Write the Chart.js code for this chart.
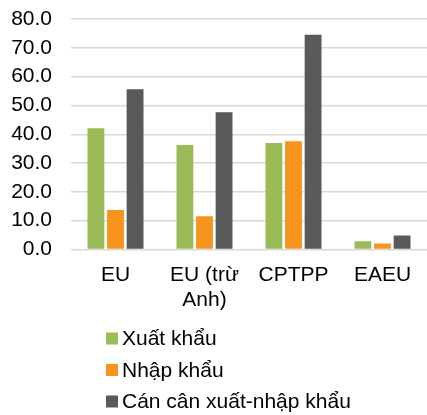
<!DOCTYPE html>
<html>
<head>
<meta charset="utf-8">
<script src="https://cdn.jsdelivr.net/npm/chart.js@4/dist/chart.umd.min.js"></script>
<style>
  html, body { margin: 0; padding: 0; background: #ffffff; }
  #wrap { position: relative; width: 427px; height: 415px; }
</style>
</head>
<body>
<div id="wrap"><canvas id="c"></canvas></div>
<script>
const categories = ["EU", ["EU (trừ", "Anh)"], "CPTPP", "EAEU"];
const seriesNames = ["Xuất khẩu", "Nhập khẩu", "Cán cân xuất-nhập khẩu"];
const exportValues = [42.1, 36.3, 37.0, 2.9];
const importValues = [13.7, 11.5, 37.6, 2.1];
const balanceValues = [55.6, 47.6, 74.5, 4.9];
const yTicks = [0, 10, 20, 30, 40, 50, 60, 70, 80];
const colors = ["#9bbb59", "#f7941d", "#58595b"];

const FONT = "'Liberation Sans', Arial, sans-serif";

const customLegend = {
  id: 'customLegend',
  afterDraw(chart) {
    const ctx = chart.ctx;
    const ds = chart.data.datasets;
    const x0 = 106, box = 12, textX = 122;
    const rows = [338.5, 370, 401.5];
    ctx.save();
    ctx.font = "21px " + FONT;
    ctx.textBaseline = 'middle';
    ctx.textAlign = 'left';
    ds.forEach((d, i) => {
      ctx.fillStyle = d.backgroundColor;
      ctx.fillRect(x0, rows[i] - box / 2, box, box);
      ctx.fillStyle = '#000000';
      ctx.fillText(d.label, textX, rows[i] + 1);
    });
    ctx.restore();
  }
};

new Chart(document.getElementById('c'), {
  type: 'bar',
  data: {
    labels: categories,
    datasets: [
      { label: seriesNames[0], data: exportValues, backgroundColor: colors[0] },
      { label: seriesNames[1], data: importValues, backgroundColor: colors[1] },
      { label: seriesNames[2], data: balanceValues, backgroundColor: colors[2] }
    ]
  },
  options: {
    responsive: true,
    maintainAspectRatio: false,
    animation: false,
    devicePixelRatio: 1,
    datasets: { bar: { categoryPercentage: 0.66, barPercentage: 0.86 } },
    layout: { padding: { top: 19, left: 0, right: 0, bottom: 101.5 } },
    plugins: {
      legend: { display: false },
      tooltip: { enabled: false }
    },
    scales: {
      x: {
        grid: { display: false, drawTicks: false },
        border: { display: false },
        afterFit(axis) {
          axis.height = 64;
          axis.paddingLeft = 0;
          axis.paddingRight = 0;
        },
        ticks: {
          color: '#000000',
          font: { family: FONT, size: 21 },
          padding: 13,
          maxRotation: 0,
          autoSkip: false
        }
      },
      y: {
        min: 0,
        max: 80,
        afterBuildTicks(axis) { axis.ticks = yTicks.map(v => ({ value: v })); },
        afterFit(axis) {
          axis.width = 71;
          axis.paddingTop = 0;
          axis.paddingBottom = 0;
        },
        grid: { color: '#d9d9d9', lineWidth: 1.5, drawTicks: false },
        border: { display: false },
        ticks: {
          color: '#000000',
          font: { family: FONT, size: 21 },
          padding: 19,
          autoSkip: false,
          callback: v => Number(v).toFixed(1)
        }
      }
    }
  },
  plugins: [customLegend]
});
</script>
</body>
</html>
